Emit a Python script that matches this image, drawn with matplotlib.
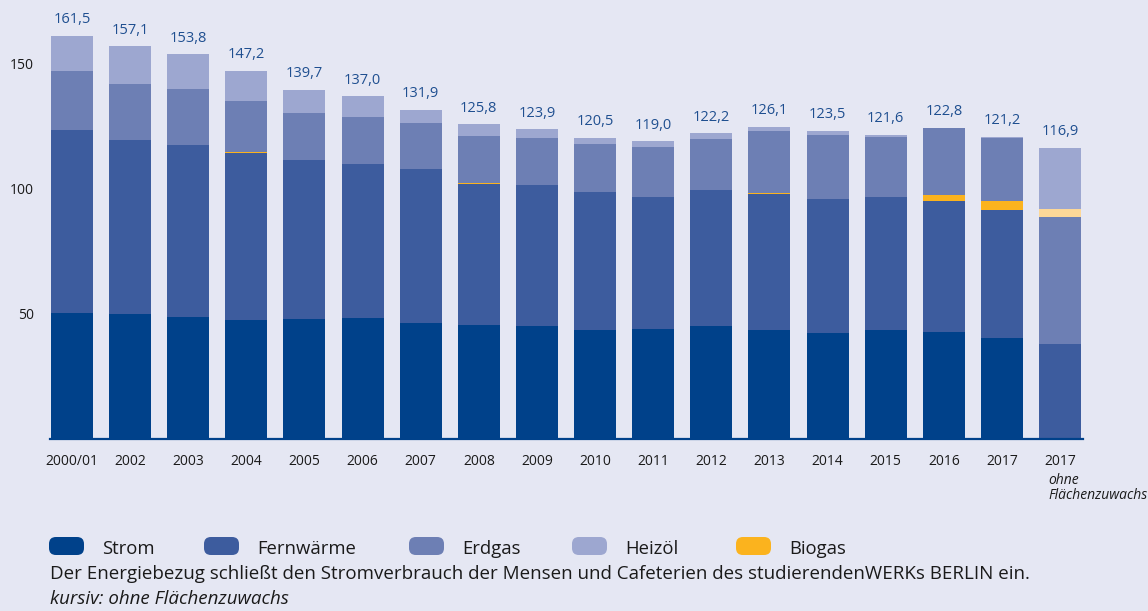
import matplotlib
matplotlib.use("Agg")
import matplotlib.pyplot as plt
from matplotlib.patches import FancyBboxPatch
import numpy as np

plt.rcParams['font.family'] = ['Open Sans', 'DejaVu Sans']

# ---- data ----
categories = ["2000/01", "2002", "2003", "2004", "2005", "2006", "2007", "2008", "2009",
              "2010", "2011", "2012", "2013", "2014", "2015", "2016", "2017", "2017"]
totals = [161.5, 157.1, 153.8, 147.2, 139.7, 137.0, 131.9, 125.8, 123.9,
          120.5, 119.0, 122.2, 126.1, 123.5, 121.6, 122.8, 121.2, 116.9]
strom = [50.4, 50.0, 48.8, 47.6, 48.0, 48.4, 46.4, 45.6, 45.2,
         43.6, 44.0, 45.2, 43.6, 42.4, 43.6, 42.8, 40.4, 38.0]
fernwaerme = [73.2, 69.6, 68.8, 66.8, 63.6, 61.6, 61.6, 56.5, 56.4,
              55.2, 52.8, 54.4, 54.5, 53.6, 53.2, 52.4, 51.2, 50.8]
biogas = [0.0, 0.0, 0.0, 0.3, 0.0, 0.0, 0.0, 0.2, 0.0,
          0.0, 0.0, 0.0, 0.2, 0.0, 0.0, 2.4, 3.6, 3.2]
erdgas = [23.6, 22.4, 22.4, 20.5, 18.8, 18.8, 18.4, 18.9, 18.8,
          19.2, 20.0, 20.4, 24.9, 25.6, 24.0, 26.8, 25.3, 24.5]
heizoel = [14.1, 15.1, 13.8, 12.0, 9.3, 8.2, 5.2, 4.6, 3.5,
           2.5, 2.2, 2.2, 1.6, 1.6, 0.8, 0.0, 0.3, 0.0]
series_names = ["Strom", "Fernwärme", "Erdgas", "Heizöl", "Biogas"]
footnote = "Der Energiebezug schließt den Stromverbrauch der Mensen und Cafeterien des studierendenWERKs BERLIN ein."
footnote2 = "kursiv: ohne Flächenzuwachs"
special_label = "ohne\nFlächenzuwachs"

# ---- styles ----
BG = "#e5e7f3"
C_STROM = "#00418a"
C_FERN = "#3d5c9e"
C_ERD = "#6d7fb4"
C_HEIZ = "#9da7d0"
C_BIO = "#fbb31e"
C_BIO_L = "#fdd898"
LABEL_C = "#1f4f90"
TEXT_C = "#1a1a1a"

W, H = 1148, 611
fig = plt.figure(figsize=(W / 100, H / 100), dpi=100, facecolor=BG)

ax_left, ax_right, ax_bottom, ax_top = 50, 1083, 439, 10
ax = fig.add_axes([ax_left / W, (H - ax_bottom) / H, (ax_right - ax_left) / W, (ax_bottom - ax_top) / H])
ax.set_facecolor(BG)

n = len(categories)
x = np.arange(n)
special = np.zeros(n, dtype=bool)
special[-1] = True

col_strom = [C_FERN if s else C_STROM for s in special]
col_fern = [C_ERD if s else C_FERN for s in special]
col_bio = [C_BIO_L if s else C_BIO for s in special]
col_erd = [C_HEIZ if s else C_ERD for s in special]
col_heiz = [C_HEIZ for s in special]

width = 0.723
bottom = np.zeros(n)
for vals, cols in [(strom, col_strom), (fernwaerme, col_fern), (biogas, col_bio),
                   (erdgas, col_erd), (heizoel, col_heiz)]:
    v = np.array(vals)
    ax.bar(x, v, width, bottom=bottom, color=cols, linewidth=0, zorder=2)
    bottom += v

for xi, top, t in zip(x, bottom, totals):
    ax.text(xi, top + 6.4, f"{t:.1f}".replace(".", ","), ha="center", va="center",
            fontsize=10.5, color=LABEL_C, zorder=3)

ax.set_xlim(-0.3785, 17.395)
ax.set_ylim(0, (ax_bottom - ax_top) / 2.5)
ax.set_yticks([50, 100, 150])
ax.set_yticklabels(["50", "100", "150"])
ax.set_xticks(x)
ax.set_xticklabels(categories)
ax.tick_params(axis="y", length=0, pad=11.5, labelsize=10, labelcolor=TEXT_C)
ax.tick_params(axis="x", length=0, pad=11, labelsize=10, labelcolor=TEXT_C)
for side in ["left", "right", "top"]:
    ax.spines[side].set_visible(False)
ax.spines["bottom"].set_color(C_STROM)
ax.spines["bottom"].set_linewidth(1.6)
ax.spines["bottom"].set_zorder(4)

fig.text(1048 / W, 1 - 488 / H, special_label, ha="left", va="center", fontsize=10,
         style="italic", color=TEXT_C, linespacing=1.0)

# ---- legend (manual) ----
leg_colors = [C_STROM, C_FERN, C_ERD, C_HEIZ, C_BIO]
sw_x = [49, 204, 409, 572, 736]
for name, c, sx in zip(series_names, leg_colors, sw_x):
    p = FancyBboxPatch((sx / W, 1 - 555 / H), 35 / W, 18 / H,
                       boxstyle="round,pad=0,rounding_size=0.006",
                       transform=fig.transFigure, facecolor=c, edgecolor="none",
                       mutation_aspect=W / H)
    fig.patches.append(p)
    fig.text((sx + 53) / W, 1 - 549 / H, name, ha="left", va="center",
             fontsize=13.3, color=TEXT_C)

fig.text(50 / W, 1 - 574 / H, footnote, ha="left", va="center", fontsize=13.5, color=TEXT_C)
fig.text(50 / W, 1 - 599 / H, footnote2, ha="left", va="center", fontsize=13.5,
         style="italic", color=TEXT_C)

fig.savefig("out.png", dpi=100, facecolor=BG)
